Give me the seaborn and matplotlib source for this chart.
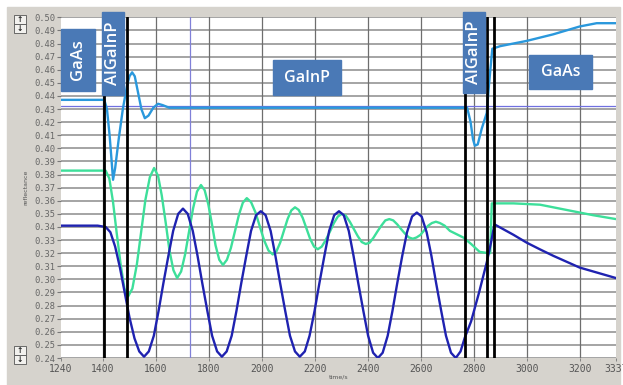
import numpy as np
import pandas as pd
import seaborn as sns
import matplotlib.pyplot as plt
from matplotlib.patches import Rectangle

# --- data (time in s) ---
t_sky = [1240, 1405, 1415, 1425, 1432, 1438, 1446, 1460, 1475, 1490, 1500, 1510,
         1520, 1532, 1545, 1558, 1572, 1590, 1608, 1625, 1650, 2775, 2788, 2797,
         2804, 2815, 2830, 2849, 2858, 2870, 2900, 3000, 3100, 3200, 3264, 3337]
r_sky = [0.437, 0.437, 0.430, 0.410, 0.392, 0.376, 0.385, 0.408, 0.430, 0.447, 0.455, 0.458,
         0.455, 0.443, 0.430, 0.423, 0.425, 0.431, 0.434, 0.433, 0.431, 0.431, 0.420, 0.407,
         0.402, 0.403, 0.415, 0.427, 0.450, 0.476, 0.478, 0.482, 0.487, 0.493, 0.4955, 0.4955]

t_mint = [1240, 1410, 1424, 1438, 1452, 1467, 1481, 1495,
          1511, 1528, 1544, 1560, 1577, 1593,
          1608, 1622, 1637, 1651, 1666, 1680,
          1695, 1710, 1725, 1740, 1755, 1770,
          1784, 1798, 1812, 1825, 1839, 1853,
          1868, 1883, 1898, 1913, 1928, 1943,
          1959, 1976, 1992, 2008, 2025, 2041,
          2055, 2069, 2083, 2097, 2111, 2125,
          2139, 2154, 2168, 2182, 2197, 2211,
          2226, 2241, 2257, 2272, 2287, 2302,
          2317, 2332, 2347, 2362, 2377, 2392,
          2407, 2422, 2436, 2451, 2466, 2481,
          2496, 2511, 2525, 2540, 2555, 2570,
          2584, 2599, 2613, 2628, 2642, 2657,
          2672, 2690, 2710, 2740, 2760, 2790, 2822, 2855, 2862, 2868,
          2950, 3050, 3150, 3250, 3337]
r_mint = [0.383, 0.383, 0.377, 0.359, 0.335, 0.311, 0.293, 0.287,
          0.293, 0.3115, 0.336, 0.3605, 0.378, 0.385,
          0.379, 0.364, 0.343, 0.322, 0.307, 0.301,
          0.306, 0.319, 0.3365, 0.354, 0.367, 0.372,
          0.368, 0.357, 0.3415, 0.326, 0.315, 0.311,
          0.315, 0.324, 0.3365, 0.349, 0.3585, 0.362,
          0.359, 0.351, 0.3405, 0.330, 0.322, 0.319,
          0.3214, 0.328, 0.337, 0.346, 0.3526, 0.355,
          0.353, 0.347, 0.339, 0.331, 0.325, 0.323,
          0.325, 0.330, 0.3365, 0.343, 0.348, 0.350,
          0.3485, 0.344, 0.3385, 0.333, 0.3285, 0.327,
          0.328, 0.332, 0.3365, 0.341, 0.345, 0.346,
          0.345, 0.342, 0.3385, 0.335, 0.332, 0.331,
          0.332, 0.334, 0.3375, 0.341, 0.343, 0.344,
          0.343, 0.341, 0.337, 0.334, 0.332, 0.327, 0.321, 0.320, 0.320, 0.358,
          0.358, 0.357, 0.353, 0.349, 0.346]

t_navy = [1240, 1380, 1410, 1428, 1446, 1464, 1482, 1500, 1519, 1537, 1555,
          1573, 1592, 1610, 1628, 1647, 1665, 1684, 1702,
          1720, 1739, 1757, 1775, 1794, 1812, 1831, 1849,
          1867, 1886, 1904, 1922, 1941, 1959, 1978, 1996,
          2014, 2033, 2051, 2069, 2088, 2106, 2125, 2143,
          2162, 2180, 2199, 2217, 2236, 2254, 2273, 2291,
          2309, 2328, 2346, 2364, 2383, 2401, 2420, 2438,
          2456, 2475, 2493, 2511, 2530, 2548, 2567, 2585,
          2603, 2622, 2640, 2658, 2677, 2695, 2714, 2732,
          2750, 2766, 2790, 2820, 2849, 2865, 2878,
          2950, 3000, 3049, 3100, 3200, 3337]
r_navy = [0.341, 0.341, 0.340, 0.336, 0.325, 0.309, 0.290, 0.271, 0.255, 0.245, 0.241,
          0.245, 0.257, 0.276, 0.297, 0.318, 0.337, 0.350, 0.354,
          0.350, 0.337, 0.318, 0.297, 0.276, 0.257, 0.245, 0.241,
          0.245, 0.257, 0.276, 0.297, 0.318, 0.337, 0.349, 0.352,
          0.349, 0.337, 0.318, 0.297, 0.276, 0.257, 0.245, 0.241,
          0.245, 0.257, 0.276, 0.297, 0.318, 0.337, 0.349, 0.352,
          0.349, 0.337, 0.318, 0.297, 0.276, 0.257, 0.244, 0.240,
          0.244, 0.257, 0.276, 0.297, 0.318, 0.336, 0.348, 0.351,
          0.348, 0.336, 0.318, 0.297, 0.276, 0.257, 0.244, 0.240,
          0.245, 0.2555, 0.268, 0.290, 0.313, 0.328, 0.342,
          0.334, 0.328, 0.323, 0.318, 0.309, 0.301]

interfaces = [1404, 1490, 2766, 2849, 2876]
cursor_t = 1728
cursor_r = 0.432
xticks = [1240, 1400, 1600, 1800, 2000, 2200, 2400, 2600, 2800, 3000, 3200, 3337]
xgrid = [1400, 1600, 1800, 2000, 2200, 2400, 2600, 2800, 3000, 3200]
yticks = [round(v / 100, 2) for v in range(24, 51)]

# layer labels: text, rotated?, box in pixel coords (x0, y0, x1, y1), top-left origin
layers = [("GaAs", True, (61, 29, 95, 91)),
          ("AlGaInP", True, (102, 12, 124, 95)),
          ("GaInP", False, (273, 60, 341, 95)),
          ("AlGaInP", True, (463, 12, 485, 93)),
          ("GaAs", False, (529, 55, 592, 89))]

df = pd.concat([
    pd.DataFrame({"time": t_sky, "refl": r_sky, "trace": "a"}),
    pd.DataFrame({"time": t_mint, "refl": r_mint, "trace": "b"}),
    pd.DataFrame({"time": t_navy, "refl": r_navy, "trace": "c"}),
])

sns.set_theme(style="white")
W, H = 623, 385
fig = plt.figure(figsize=(W / 100, H / 100), dpi=100)
fig.patch.set_facecolor("white")
fig.patches.append(Rectangle((7 / W, 0), (620 - 7) / W, (385 - 7) / H,
                             transform=fig.transFigure, color="#d6d3cd", zorder=-10))

ax = fig.add_axes([60.6 / W, 1 - 358 / H, (616 - 60.6) / W, (358 - 17.3) / H])
ax.set_facecolor("white")

for v in yticks:
    ax.axhline(v, color="#8c8c8c", lw=1.1, zorder=1)
for g in xgrid:
    ax.axvline(g, color="#6e6e6e", lw=0.9, zorder=1)
ax.axvline(cursor_t, color="#8080d8", lw=0.9, zorder=1)
ax.axhline(cursor_r, color="#7070e0", lw=0.9, zorder=1)

sns.lineplot(data=df, x="time", y="refl", hue="trace", sort=False, estimator=None,
             palette={"a": "#2a98dc", "b": "#3ddf9a", "c": "#1f22b0"},
             lw=1.7, legend=False, ax=ax, zorder=3)

for x in interfaces:
    ax.axvline(x, color="black", lw=2.0, zorder=4)

ax.set_xlim(1240, 3337)
ax.set_ylim(0.24, 0.50)
ax.set_xticks(xticks)
ax.set_yticks(yticks)
ax.set_yticklabels([f"{v:.2f}" for v in yticks], family="DejaVu Sans Mono",
                   fontsize=6.3, color="#666666")
ax.set_xticklabels([str(v) for v in xticks], family="DejaVu Sans Mono",
                   fontsize=7, color="#555555")
ax.tick_params(axis="y", left=True, length=3, width=0.8, color="#777777", pad=1)
ax.tick_params(axis="x", bottom=True, length=2, width=0.6, color="#777777", pad=2)
for s in ax.spines.values():
    s.set_visible(False)
ax.set_xlabel("time/s", fontsize=4.5, color="#555555", labelpad=1)
ax.set_ylabel("reflectance", fontsize=4.5, color="#555555", labelpad=4)

# layer label boxes
for text, rot, (x0, y0, x1, y1) in layers:
    fig.patches.append(Rectangle((x0 / W, 1 - y1 / H), (x1 - x0) / W, (y1 - y0) / H,
                                 transform=fig.transFigure, color="#4a79b6", zorder=5))
    fig.text((x0 + x1) / 2 / W, 1 - (y0 + y1) / 2 / H, text, rotation=90 if rot else 0,
             ha="center", va="center", color="white", fontsize=12 if rot else 11.5,
             family="Open Sans", weight="semibold", zorder=6)

# spinner buttons at the axis ends
for ytop in (15, 346):
    for k, arrow in enumerate(["↑", "↓"]):
        yb = ytop + k * 9
        fig.patches.append(Rectangle((14 / W, 1 - (yb + 9) / H), 12 / W, 9 / H,
                                     transform=fig.transFigure, facecolor="#f2f1ee",
                                     edgecolor="#555555", lw=0.6, zorder=5))
        fig.text(20 / W, 1 - (yb + 4.5) / H, arrow, ha="center", va="center",
                 fontsize=5.5, weight="bold", color="#222222", zorder=6)

fig.savefig("out.png", dpi=100)
